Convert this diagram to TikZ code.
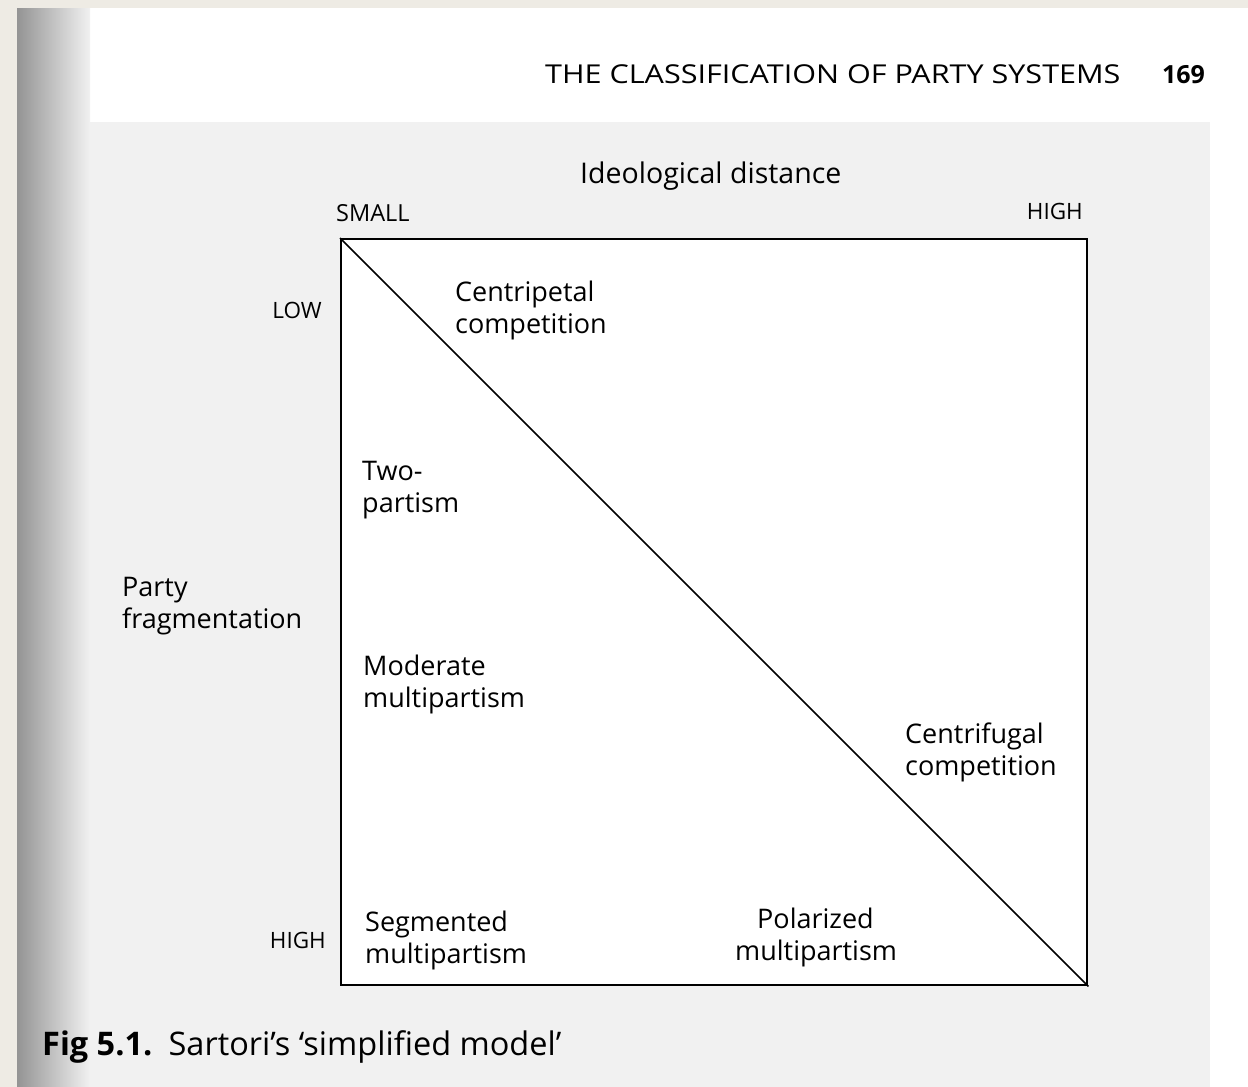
\documentclass[tikz,border=0pt]{standalone}
\usepackage{fontspec}
\setmainfont{Open Sans}
\definecolor{beige}{RGB}{238,235,228}
\definecolor{scan}{RGB}{241,241,241}
\begin{document}
\begin{tikzpicture}[x=1pt,y=-1pt,
  lbl/.style={anchor=base west,inner sep=0pt,align=left,font=\fontsize{27}{32}\selectfont},
  axl/.style={anchor=base west,inner sep=0pt,font=\fontsize{22.5}{26}\selectfont}]
\useasboundingbox (0,0) rectangle (1248,1087);
\fill[beige] (0,0) rectangle (1248,1087);
\fill[white] (17,8) rectangle (1248,1087);
\fill[scan] (60,122) rectangle (1210,1087);
\shade[left color=black!42,right color=scan] (17,8) rectangle (90,1087);
% box
\node[draw,line width=2.4pt,fill=white,inner sep=0pt,minimum width=746pt,minimum height=746pt,anchor=north west] (box) at (340,238) {};
\draw[line width=1.6pt] (box.north west) -- (box.south east);
% header
\node[anchor=base west,inner sep=0pt,xscale=1.175,font=\fontsize{26}{30}\selectfont] (hdr) at (545,83) {THE CLASSIFICATION OF PARTY SYSTEMS};
\node[anchor=base east,inner sep=0pt,font=\fontsize{25}{28}\selectfont\bfseries] (pg) at (1205,83) {169};
% axes
\node[anchor=base west,inner sep=0pt,font=\fontsize{28.5}{32}\selectfont] (ideo) at (580,183) {Ideological distance};
\node[axl,font=\fontsize{23.5}{26}\selectfont] (small) at (336,221) {SMALL};
\node[axl,anchor=base east] (hightop) at (1083,219) {HIGH};
\node[axl,anchor=base east] (low) at (322,318) {LOW};
\node[axl,anchor=base east] (highleft) at (326,948) {HIGH};
\node[lbl] (party) at (122,628) {Party\\fragmentation};
% regions (anchor = baseline of the last line)
\node[lbl] (centri) at (455,333) {Centripetal\\competition};
\node[lbl] (two) at (362,512) {Two-\\partism};
\node[lbl] (mod) at (363,707) {Moderate\\multipartism};
\node[lbl] (cfug) at (905,775) {Centrifugal\\competition};
\node[lbl] (seg) at (365,963) {Segmented\\multipartism};
\node[lbl] (pol) at (735,960) {\hspace*{22pt}Polarized\\multipartism};
% caption
\node[anchor=base west,inner sep=0pt,font=\fontsize{32.5}{36}\selectfont] (cap) at (42,1055) {\textbf{Fig 5.1.}\enspace Sartori’s ‘simplified model’};
\end{tikzpicture}
\end{document}
